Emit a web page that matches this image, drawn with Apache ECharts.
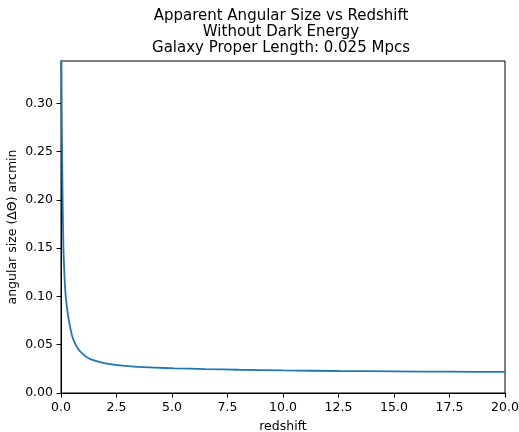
<!DOCTYPE html>
<html>
<head>
<meta charset="utf-8">
<script src="https://cdn.jsdelivr.net/npm/echarts@6/dist/echarts.min.js"></script>
<style>html,body{margin:0;padding:0;background:#fff;}#c{width:519px;height:432px;}</style>
</head>
<body>
<div id="c"></div>
<script>
var redshift = [0.015, 0.03, 0.05, 0.08, 0.11, 0.15, 0.19, 0.25, 0.34, 0.49, 0.6, 0.79, 1.0, 1.24, 1.6, 2.0, 2.75, 3.5, 4.25, 5.1, 6.5, 8, 10, 12.5, 15, 17.5, 20];
var angularSize = [0.38, 0.30, 0.25, 0.19, 0.150, 0.125, 0.107, 0.092, 0.077, 0.060, 0.053, 0.045, 0.040, 0.036, 0.033, 0.0308, 0.0284, 0.0271, 0.0263, 0.0256, 0.0248, 0.0241, 0.0234, 0.0228, 0.0224, 0.0221, 0.0218];
var yTicks = [0, 0.05, 0.10, 0.15, 0.20, 0.25, 0.30];
var xTicks = [0, 2.5, 5, 7.5, 10, 12.5, 15, 17.5, 20];
var titleLines = ['Apparent Angular Size vs Redshift', 'Without Dark Energy', 'Galaxy Proper Length: 0.025 Mpcs'];

var data = redshift.map(function (z, i) { return [z, angularSize[i]]; });
var font = 'DejaVu Sans';
var chart = echarts.init(document.getElementById('c'));
chart.setOption({
  animation: false,
  graphic: [{
    type: 'text', x: 281, y: 8,
    style: {
      text: titleLines.join('\n'), x: 0, y: 0, align: 'center', verticalAlign: 'top',
      fontFamily: font, fontSize: 15, lineHeight: 16, fill: '#000'
    }
  }],
  grid: { left: 61, right: 14, top: 61, bottom: 39, containLabel: false, outerBoundsMode: 'none', show: true, borderColor: '#000', borderWidth: 1, backgroundColor: 'transparent' },
  xAxis: {
    type: 'value', min: 0, max: 20, interval: 2.5,
    name: 'redshift', nameLocation: 'middle', nameGap: 27, nameMoveOverlap: false,
    nameTextStyle: { fontFamily: font, fontSize: 12.5, color: '#000' },
    axisLine: { show: true, onZero: false, lineStyle: { color: '#000' } },
    axisTick: { show: true, length: 4.5, customValues: xTicks, lineStyle: { color: '#000' } },
    axisLabel: { fontFamily: font, fontSize: 12.5, color: '#000', margin: 8, customValues: xTicks, formatter: function (v) { return v.toFixed(1); } },
    splitLine: { show: false }
  },
  yAxis: {
    type: 'value', min: 0, max: 0.344,
    name: 'angular size (ΔΘ) arcmin', nameLocation: 'middle', nameGap: 42, nameMoveOverlap: false,
    nameTextStyle: { fontFamily: font, fontSize: 12.5, color: '#000' },
    axisLine: { show: true, onZero: false, lineStyle: { color: '#000' } },
    axisTick: { show: true, length: 4.5, customValues: yTicks, lineStyle: { color: '#000' } },
    axisLabel: { fontFamily: font, fontSize: 12.5, color: '#000', margin: 8, customValues: yTicks, formatter: function (v) { return v.toFixed(2); } },
    splitLine: { show: false }
  },
  series: [{
    type: 'line', data: data, showSymbol: false, smooth: 0.3, clip: true,
    lineStyle: { color: '#1f77b4', width: 1.8 }
  }]
});
</script>
</body>
</html>
